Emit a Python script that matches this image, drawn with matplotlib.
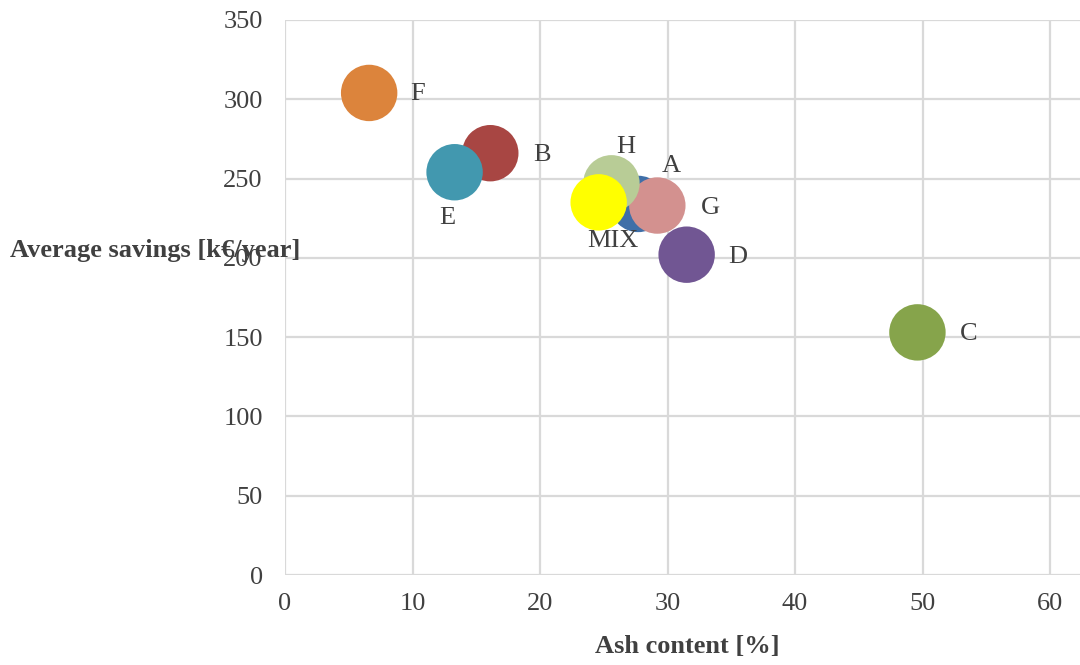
import matplotlib.pyplot as plt

plt.rcParams['font.family'] = ['Liberation Serif', 'DejaVu Serif']

# bubble data
names = ['A', 'B', 'C', 'D', 'E', 'F', 'G', 'H', 'MIX']
ash = [27.7, 16.1, 49.6, 31.5, 13.3, 6.6, 29.2, 25.6, 24.6]
savings = [234, 266, 153, 202, 254, 304, 233, 247, 235]
colors = ['#3F6FA8', '#A84643', '#86A44B', '#715693', '#4298AF',
          '#DC843C', '#D3918F', '#B8CC96', '#FFFF00']
# label offsets in points (dx, dy)
offsets = {'A': (24, 27), 'B': (37, -1), 'C': (37, -1), 'D': (37, -2),
           'E': (-5, -33), 'F': (35, -1), 'G': (38, -2), 'H': (10, 26),
           'MIX': (10, -28)}

grey = '#404040'
fig = plt.figure(figsize=(10.8, 6.65), dpi=100)
ax = fig.add_axes([285 / 1080, 1 - 575 / 665, 1 - 285 / 1080, 555 / 665])

for n, x, y, c in zip(names, ash, savings, colors):
    ax.scatter(x, y, s=1650, color=c, edgecolors='none', zorder=3)
    dx, dy = offsets[n]
    ax.annotate(n, (x, y), xytext=(dx, dy), textcoords='offset points',
                ha='center', va='center', fontsize=19, color=grey, zorder=4)

ax.set_xlim(0, 62.35)
ax.set_ylim(0, 350)
ax.set_xticks(range(0, 61, 10))
ax.set_yticks(range(0, 351, 50))
ax.grid(True, color='#D9D9D9', linewidth=1.6, zorder=0)
ax.set_axisbelow(True)
for s in ax.spines.values():
    s.set_visible(False)
ax.tick_params(length=0, labelsize=19, colors=grey, pad=16)
ax.tick_params(axis='x', pad=13)

fig.text(687 / 1080, 1 - 647 / 665, 'Ash content [%]', ha='center', va='center',
         fontsize=19, fontweight='bold', color=grey)
fig.text(10 / 1080, 1 - 251 / 665, 'Average savings [k€/year]', ha='left',
         va='center', fontsize=19, fontweight='bold', color=grey)

fig.savefig('out.png', dpi=100)
